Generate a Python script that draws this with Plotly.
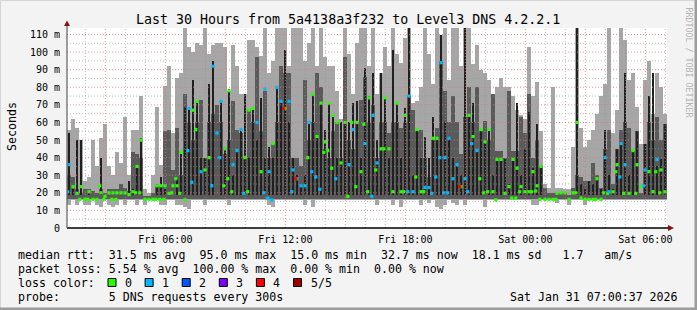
import plotly.graph_objects as go
from datetime import datetime, timedelta

# ---------------- data ----------------
start_time = datetime(2026, 1, 30, 1, 5, 0)
hours_shown = 30
step_minutes = 12

smoke_min = [13,16,13,16,13,13,16,13,12,16,
             13,12,13,16,13,16,16,13,16,13,
             16,16,16,13,13,16,16,13,13,12,
             11,16,16,16,13,16,16,16,16,16,
             13,16,16,16,16,16,16,16,16,16,
             13,12,16,16,16,16,16,16,16,13,
             16,12,16,16,16,16,16,16,16,16,
             16,16,16,16,16,16,16,13,16,16,
             16,13,16,12,16,16,16,16,13,16,
             14,16,12,11,13,16,14,13,16,13,
             16,16,16,16,12,16,16,16,16,16,
             16,16,16,16,16,16,13,13,16,16,
             16,16,14,16,16,13,16,16,16,13,
             16,16,16,16,16,16,16,16,16,16,
             16,16,16,16,16,16,16,16,16,16]

smoke_max = [56,62,57,50,27,29,50,35,51,59,
             35,30,43,37,63,30,56,56,75,22,
             20,30,69,36,81,92,54,85,88,118,
             103,100,105,104,118,99,104,105,105,103,
             78,104,92,76,76,107,107,103,98,118,
             88,95,118,118,118,92,118,118,118,95,
             105,118,92,118,97,92,92,78,62,118,
             99,76,105,118,118,92,118,76,88,103,
             92,118,99,94,108,118,71,72,80,118,
             99,82,118,110,118,84,118,118,92,118,
             118,93,104,90,88,84,76,80,85,80,
             80,75,67,64,62,103,75,83,55,25,
             23,80,23,23,22,22,46,118,57,46,
             50,56,65,75,82,118,54,67,118,107,
             84,88,69,48,84,95,65,88,80,65]

smoke_mid_max = [30,29,22,20,22,22,21,20,22,20,
                 22,22,22,25,23,21,43,42,40,18,
                 18,20,24,24,55,56,33,57,30,76,
                 60,50,60,73,40,60,65,70,60,42,
                 50,72,56,54,40,67,60,97,55,78,
                 40,48,60,92,88,88,40,40,35,84,
                 50,60,88,80,45,40,55,60,40,97,
                 50,45,60,73,86,60,70,40,60,60,
                 54,60,60,57,60,75,67,55,56,40,
                 29,50,57,95,78,60,75,60,42,63,
                 80,60,80,55,61,50,76,44,44,40,
                 78,44,44,63,54,76,40,50,35,23,
                 20,20,20,20,20,19,23,30,29,27,
                 27,37,30,23,45,56,25,45,56,60,
                 57,44,55,20,48,60,50,63,50,59]

smoke_dark_max = [54,22,50,50,None,21,None,None,40,None,
                  None,None,None,None,None,27,22,36,51,None,
                  None,None,25,29,22,None,None,28,42,69,
                  69,84,72,40,40,82,95,None,72,45,
                  79,30,44,56,76,40,68,50,74,40,
                  46,40,80,72,101,60,40,30,25,30,
                  60,76,52,71,56,71,65,40,60,60,
                  60,71,72,40,91,75,88,50,88,74,
                  40,101,71,40,68,118,30,56,40,52,
                  40,63,50,110,60,51,40,36,30,118,
                  64,71,45,56,50,56,30,40,40,39,
                  25,39,71,30,45,66,34,59,36,None,
                  None,None,None,None,None,None,None,118,25,22,
                  27,25,28,22,56,30,22,45,48,88,
                  30,44,55,None,48,75,88,35,39,59]

median_rtt = [36,23.5,19.7,23.5,16.3,20.6,16.3,16.3,20,18,
              20,20,20,20,20,19,20.6,35,50,16.3,
              16.3,16.3,24,24,24,19.7,24,24,43,16,
              68,67,72,32,33,40,92,54,72,45,
              78,36,44,56,40,67,68,60,32,79,
              32,48,80,72,68,72,33,28,24,24,
              60,76,52,71,49,71,64,60,37,60,
              36,56,60,32,48,74,64,37,45,74,
              45,20.6,71,20.6,64,75,20.6,56,20.6,23,
              23,51,51,94,40,51,28,36,23.5,28,
              64,52,44,56,49,56,20.6,39,39,19.7,
              23.5,39,34,23.5,20.6,20.6,32,24,35,16.3,
              16.3,16.3,19.7,20,20,16.3,20,60,17,16.3,
              16.3,16.3,28,16.3,40,20.6,20.6,36,48,36,
              19.7,44,36,23.5,33,32,20.6,39,33,20.6]

median_loss = [1,0,0,0,0,0,0,0,0,0,
               0,0,0,0,0,0,0,0,0,0,
               0,0,0,0,0,0,0,0,0,0,
               1,0,0,1,0,0,1,1,1,0,
               0,1,1,1,0,0,0,1,0,1,
               1,0,1,1,0,1,1,1,1,1,
               1,0,0,0,0,0,0,0,0,0,
               1,1,0,0,1,0,1,1,0,0,
               0,0,0,0,0,1,1,0,0,1,
               1,0,0,1,1,1,1,1,0,1,
               0,0,1,0,0,0,0,0,0,0,
               0,0,0,0,0,0,0,0,0,0,
               0,0,0,0,0,0,0,0,0,0,
               0,0,0,0,1,1,0,0,1,1,
               0,0,0,0,1,0,0,1,0,0]

median2_rtt = [20.6,None,None,16.3,None,16.3,None,None,24,16.3,
               None,16.3,16.3,None,None,None,None,20,20,None,
               None,None,16.3,16.3,16.3,None,20,28,19.7,None,
               44,26,56,None,None,None,24,None,40,24,
               28,20.6,None,None,19.7,20.6,None,None,None,20,
               17,16,None,None,68,None,20.6,28,None,None,
               40,32,29,22,43,44,34,28,None,None,
               18,60,23.5,None,59,20.6,18,33,None,45,
               None,None,None,None,20.6,20.6,None,29,None,20.6,
               None,19.7,29,40,20,20,None,None,23.5,None,
               20.6,48,None,28,20,20.6,None,16,None,None,
               None,17,17,20.6,None,None,20.6,21,16.3,None,
               None,None,16.3,None,None,None,None,20,None,None,
               None,None,16.3,None,20,19.7,None,32,29,19.7,
               None,None,19.7,None,24,None,None,32,20,None]

median2_loss = [1,0,0,0,0,0,0,0,0,0,
                0,0,0,0,0,0,0,0,0,0,
                0,0,0,0,0,0,0,0,0,0,
                1,1,0,0,0,0,1,0,1,0,
                0,0,0,0,1,0,0,0,0,1,
                1,1,0,0,4,0,1,4,0,0,
                0,1,1,1,0,0,0,1,0,0,
                0,0,0,0,0,0,1,0,0,0,
                0,0,0,0,0,1,0,0,0,0,
                0,1,1,1,1,1,0,0,4,0,
                1,1,0,0,0,0,0,0,0,0,
                0,0,0,0,0,0,0,0,0,0,
                0,0,0,0,0,0,0,0,0,0,
                0,0,0,0,0,0,0,0,1,0,
                0,0,0,0,1,0,0,0,0,0]

mid_floor = 16.3
dark_floor = 18.5

loss_levels = [0, 1, 2, 3, 4, 5]
loss_labels = ["0", "1", "2", "3", "4", "5/5"]
loss_colors = ["#26ff00", "#00b8ff", "#0059ff", "#7e00ff", "#ff0000", "#a00000"]

y_tick_values = [0, 10, 20, 30, 40, 50, 60, 70, 80, 90, 100, 110]
y_tick_labels = ["0", "10 m", "20 m", "30 m", "40 m", "50 m", "60 m",
                 "70 m", "80 m", "90 m", "100 m", "110 m"]

title_text = "Last 30 Hours from 5a4138a3f232 to Level3 DNS 4.2.2.1"
legend_rows = [
    "median rtt:  31.5 ms avg  95.0 ms max  15.0 ms min  32.7 ms now  18.1 ms sd   1.7   am/s",
    "packet loss: 5.54 % avg  100.00 % max  0.00 % min  0.00 % now",
    "loss color:",
    "probe:       5 DNS requests every 300s",
]
stamp_text = "Sat Jan 31 07:00:37 2026"
vendor_text = "RRDTOOL / TOBI OETIKER"

n = len(smoke_min)
for arr in (smoke_max, smoke_mid_max, smoke_dark_max, median_rtt, median_loss,
            median2_rtt, median2_loss):
    assert len(arr) == n

# ---------------- geometry ----------------
W, H = 697, 310
ML, MR, MT, MB = 67, 30, 28, 82
PW, PH = W - ML - MR, H - MT - MB
Y_MAX = 113.7
MONO = "DejaVu Sans Mono"

def px_x(px):
    return (px - ML) / PW

def px_y(py):
    return (MT + PH - py) / PH

step = timedelta(minutes=step_minutes)
step_ms = step_minutes * 60 * 1000
end_time = start_time + timedelta(hours=hours_shown)
centers = [start_time + step * (i + 0.5) for i in range(n)]

fig = go.Figure()

# smoke: outer band
fig.add_bar(x=centers, base=smoke_min,
            y=[h - l for h, l in zip(smoke_max, smoke_min)],
            width=step_ms, marker=dict(color="#a6a6a6", line=dict(width=0)),
            hoverinfo="skip")
# smoke: inner band
fig.add_bar(x=centers, base=[mid_floor] * n,
            y=[m - mid_floor for m in smoke_mid_max],
            width=step_ms, marker=dict(color="#5a5a5a", line=dict(width=0)),
            hoverinfo="skip")
# smoke: core
fig.add_bar(x=centers, base=[dark_floor] * n,
            y=[(d - dark_floor) if d is not None else None for d in smoke_dark_max],
            width=step_ms * 0.35, marker=dict(color="#202020", line=dict(width=0)),
            hoverinfo="skip")

# median markers coloured by loss
for lvl, col in zip(loss_levels, loss_colors):
    xs, ys = [], []
    for i in range(n):
        if median_loss[i] == lvl:
            xs.append(centers[i])
            ys.append(median_rtt[i])
        if median2_rtt[i] is not None and median2_loss[i] == lvl:
            xs.append(centers[i] - step * 0.3)
            ys.append(median2_rtt[i])
    if xs:
        fig.add_scatter(x=xs, y=ys, mode="markers",
                        marker=dict(symbol="square", size=3.2, color=col,
                                    line=dict(width=0)),
                        hoverinfo="skip")

shapes = []
major_col = "rgba(215,120,120,0.75)"
minor_col = "rgba(150,150,150,0.6)"
# grid (drawn on top, like rrdtool)
t = start_time.replace(minute=0, second=0) + timedelta(hours=1)
while t < end_time:
    major = (t.hour % 3 == 0)
    shapes.append(dict(type="line", xref="x", yref="paper", x0=t, x1=t, y0=0, y1=1,
                       line=dict(color=major_col if major else minor_col,
                                 width=1, dash="1px,2px"), layer="above"))
    t += timedelta(hours=1)
for v in range(5, 115, 5):
    major = (v % 10 == 0)
    shapes.append(dict(type="line", xref="paper", yref="y", x0=0, x1=1, y0=v, y1=v,
                       line=dict(color=major_col if major else minor_col,
                                 width=1, dash="1px,2px"), layer="above"))

# axes lines and arrows
shapes.append(dict(type="line", xref="paper", yref="paper", x0=0, x1=px_x(669), y0=0, y1=0,
                   line=dict(color="black", width=1.3), layer="above"))
shapes.append(dict(type="line", xref="paper", yref="paper", x0=0, x1=0, y0=0, y1=px_y(24),
                   line=dict(color="#606060", width=1.2), layer="above"))
shapes.append(dict(type="path", xref="paper", yref="paper",
                   path=f"M {px_x(64)} {px_y(26)} L {px_x(70)} {px_y(26)} L {px_x(67)} {px_y(20.5)} Z",
                   fillcolor="#8b1010", line=dict(width=0), layer="above"))
shapes.append(dict(type="path", xref="paper", yref="paper",
                   path=f"M {px_x(668)} {px_y(225)} L {px_x(668)} {px_y(231)} L {px_x(674)} {px_y(228)} Z",
                   fillcolor="#8b1010", line=dict(width=0), layer="above"))

# image frame
shapes.append(dict(type="rect", xref="paper", yref="paper", x0=px_x(0), x1=px_x(W), y0=px_y(0), y1=px_y(1),
                   fillcolor="#d6d6d6", line=dict(width=0)))
shapes.append(dict(type="rect", xref="paper", yref="paper", x0=px_x(0), x1=px_x(1), y0=px_y(0), y1=px_y(H),
                   fillcolor="#d6d6d6", line=dict(width=0)))
shapes.append(dict(type="rect", xref="paper", yref="paper", x0=px_x(0), x1=px_x(W), y0=px_y(307.5), y1=px_y(H),
                   fillcolor="#9c9c9c", line=dict(width=0)))
shapes.append(dict(type="rect", xref="paper", yref="paper", x0=px_x(694.5), x1=px_x(W), y0=px_y(0), y1=px_y(H),
                   fillcolor="#9c9c9c", line=dict(width=0)))

annotations = []
def text(x, y, s, size=11.6, xanchor="left", color="black", angle=0):
    annotations.append(dict(x=px_x(x), y=px_y(y), xref="paper", yref="paper", text=s.replace(" ", "\u00a0"),
                            showarrow=False, xanchor=xanchor, yanchor="middle", textangle=angle,
                            font=dict(family=MONO, size=size, color=color)))

text(348, 19, title_text, size=13.3, xanchor="center")
text(12, 127, "Seconds", size=11.6, xanchor="center", angle=-90)
text(688.5, 62, vendor_text, size=8.3, xanchor="center", color="#b4b4b4", angle=90)
row_y = [254.5, 268.5, 282.5, 296.5]
for s, yy in zip(legend_rows, row_y):
    text(16, yy, s)
text(680, row_y[3], stamp_text, xanchor="right")

# loss colour boxes
box_left = 108
box_pitch = 37.1
for k, (lab, col) in enumerate(zip(loss_labels, loss_colors)):
    bx = box_left + k * box_pitch
    shapes.append(dict(type="rect", xref="paper", yref="paper",
                       x0=px_x(bx), x1=px_x(bx + 8), y0=px_y(row_y[2] + 4), y1=px_y(row_y[2] - 4),
                       fillcolor=col, line=dict(color="black", width=1)))
    text(bx + 15, row_y[2], lab)

six_hour_ticks = []
t = start_time.replace(minute=0, second=0)
while t <= end_time:
    if t >= start_time and t.hour % 6 == 0:
        six_hour_ticks.append(t)
    t += timedelta(hours=1)

fig.update_layout(
    width=W, height=H,
    margin=dict(l=ML, r=MR, t=MT, b=MB, pad=0),
    paper_bgcolor="#f3f3f3", plot_bgcolor="#ffffff",
    barmode="overlay", bargap=0, showlegend=False,
    shapes=shapes, annotations=annotations,
    xaxis=dict(type="date", range=[start_time, end_time], showgrid=False, zeroline=False,
               showline=False, tickmode="array", tickvals=six_hour_ticks,
               ticktext=[d.strftime("%a %H:%M") for d in six_hour_ticks],
               ticks="", ticklabelstandoff=4,
               tickfont=dict(family=MONO, size=10, color="black"), fixedrange=True),
    yaxis=dict(range=[0, Y_MAX], showgrid=False, zeroline=False, showline=False,
               tickmode="array", tickvals=y_tick_values, ticktext=y_tick_labels,
               ticks="", ticklabelstandoff=6,
               tickfont=dict(family=MONO, size=10, color="black"), fixedrange=True),
)

fig.write_html("out.html")
